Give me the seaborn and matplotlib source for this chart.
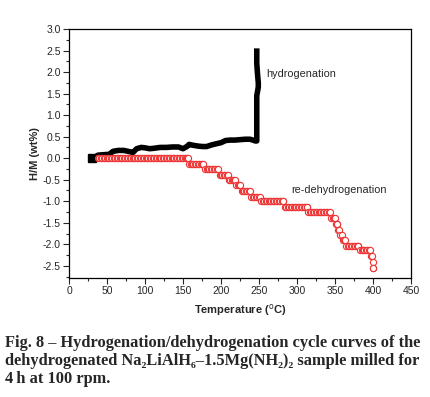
import numpy as np
import pandas as pd
import matplotlib
matplotlib.use("Agg")
import matplotlib.pyplot as plt
from matplotlib.ticker import MultipleLocator
import seaborn as sns

# ---- data ----
# hydrogenation curve (black): temperature (°C) and H/M (wt%)
hyd_T = [30, 34, 38, 45, 53, 58, 65, 72, 80, 84, 89, 95, 100, 106, 112, 120, 128, 136, 144,
         150, 155, 158, 163, 170, 176, 181, 188, 195, 200, 206, 212, 218, 225, 232, 238,
         242, 245, 247, 247, 247, 247, 248, 249, 249, 248, 247, 247]
hyd_v = [0.0, 0.02, 0.07, 0.08, 0.09, 0.16, 0.18, 0.18, 0.15, 0.13, 0.22, 0.25, 0.24, 0.22,
         0.23, 0.25, 0.25, 0.26, 0.26, 0.22, 0.27, 0.32, 0.30, 0.28, 0.27, 0.27, 0.31, 0.34,
         0.36, 0.41, 0.42, 0.42, 0.43, 0.44, 0.44, 0.42, 0.40, 0.40, 0.8, 1.2, 1.45, 1.55,
         1.65, 1.75, 1.95, 2.2, 2.55]

# re-dehydrogenation curve (red, open circles): staircase of plateaus
red_start = [38, 158, 179, 198, 210, 220, 227, 240, 253, 284, 315, 345, 351, 354, 357, 360,
             365, 383, 397.5, 399.5, 399.5, 399.5]
red_end = [156, 176.5, 196, 208.5, 218, 225, 238, 251, 282, 312.5, 343, 350, 353, 355.5,
           358.6, 363, 380.6, 396, 398, 399.5, 399.5, 399.5]
red_level = [0.0, -0.13, -0.255, -0.38, -0.50, -0.63, -0.76, -0.89, -1.00, -1.14, -1.26,
             -1.39, -1.52, -1.66, -1.79, -1.91, -2.03, -2.14, -2.28, -2.41, -2.54, -2.54]

x_label = "Temperature ($^{\\rm o}$C)"
y_label = "H/M (wt%)"
label_hyd = "hydrogenation"
label_deh = "re-dehydrogenation"
caption = ("Fig. 8 \u2013 Hydrogenation/dehydrogenation cycle curves of the\n"
           "dehydrogenated Na\u2082LiAlH\u2086\u20131.5Mg(NH\u2082)\u2082 sample milled for\n"
           "4\u2009h at 100 rpm.")

# build the red sample table: one point per measured step (sampling grid ~1.9 °C)
rows = []
for s, e, lv in zip(red_start, red_end, red_level):
    ts = np.arange(s, e + 0.01, 1.9) if e > s else np.array([e])
    if ts[-1] < e:
        ts = np.append(ts, e)
    for t in ts:
        rows.append((t, lv))
red_df = pd.DataFrame(rows, columns=["T", "v"])
hyd_df = pd.DataFrame({"T": hyd_T, "v": hyd_v})

# ---- figure ----
sns.set_theme(style="white")
plt.rcParams["font.family"] = ["Liberation Sans", "DejaVu Sans"]

fig = plt.figure(figsize=(4.30, 3.97), dpi=100)
ax = fig.add_axes([0.1605, 0.300, 0.7955, 0.627])

sns.lineplot(data=hyd_df, x="T", y="v", ax=ax, color="black", lw=4.0, sort=False,
             estimator=None, solid_capstyle="butt")
ax.plot([hyd_T[0]], [hyd_v[0]], marker="s", ms=5.5, color="black", ls="none")
sns.scatterplot(data=red_df, x="T", y="v", ax=ax, marker="o", s=20,
                facecolor="white", edgecolor="#ee3333", linewidth=0.8, zorder=3)

ax.set_xlim(0, 450)
ax.set_ylim(-2.78, 3.0)
ax.xaxis.set_major_locator(MultipleLocator(50))
ax.xaxis.set_minor_locator(MultipleLocator(25))
ax.yaxis.set_major_locator(MultipleLocator(0.5))
ax.yaxis.set_minor_locator(MultipleLocator(0.25))
ax.yaxis.set_major_formatter(matplotlib.ticker.FormatStrFormatter("%.1f"))
ax.tick_params(which="major", direction="out", length=4, width=0.8, labelsize=7.5,
               bottom=True, left=True, top=False, right=False, pad=2)
ax.tick_params(which="minor", direction="out", length=2, width=0.8,
               bottom=True, left=True, top=False, right=False)
for sp in ax.spines.values():
    sp.set_color("black")
    sp.set_linewidth(0.9)

ax.set_xlabel(x_label, fontsize=8, fontweight="bold", labelpad=4)
ax.set_ylabel(y_label, fontsize=8, fontweight="bold", labelpad=2)

ax.text(260, 1.96, label_hyd, fontsize=7.8, ha="left", va="center")
ax.text(292, -0.74, label_deh, fontsize=7.8, ha="left", va="center")

fig.text(0.012, 0.091, caption, fontsize=11.8, fontweight="bold", ha="left", va="center",
         family=["Liberation Serif", "DejaVu Serif"], linespacing=1.15, color="#262626")

fig.savefig("out.png", dpi=100)
